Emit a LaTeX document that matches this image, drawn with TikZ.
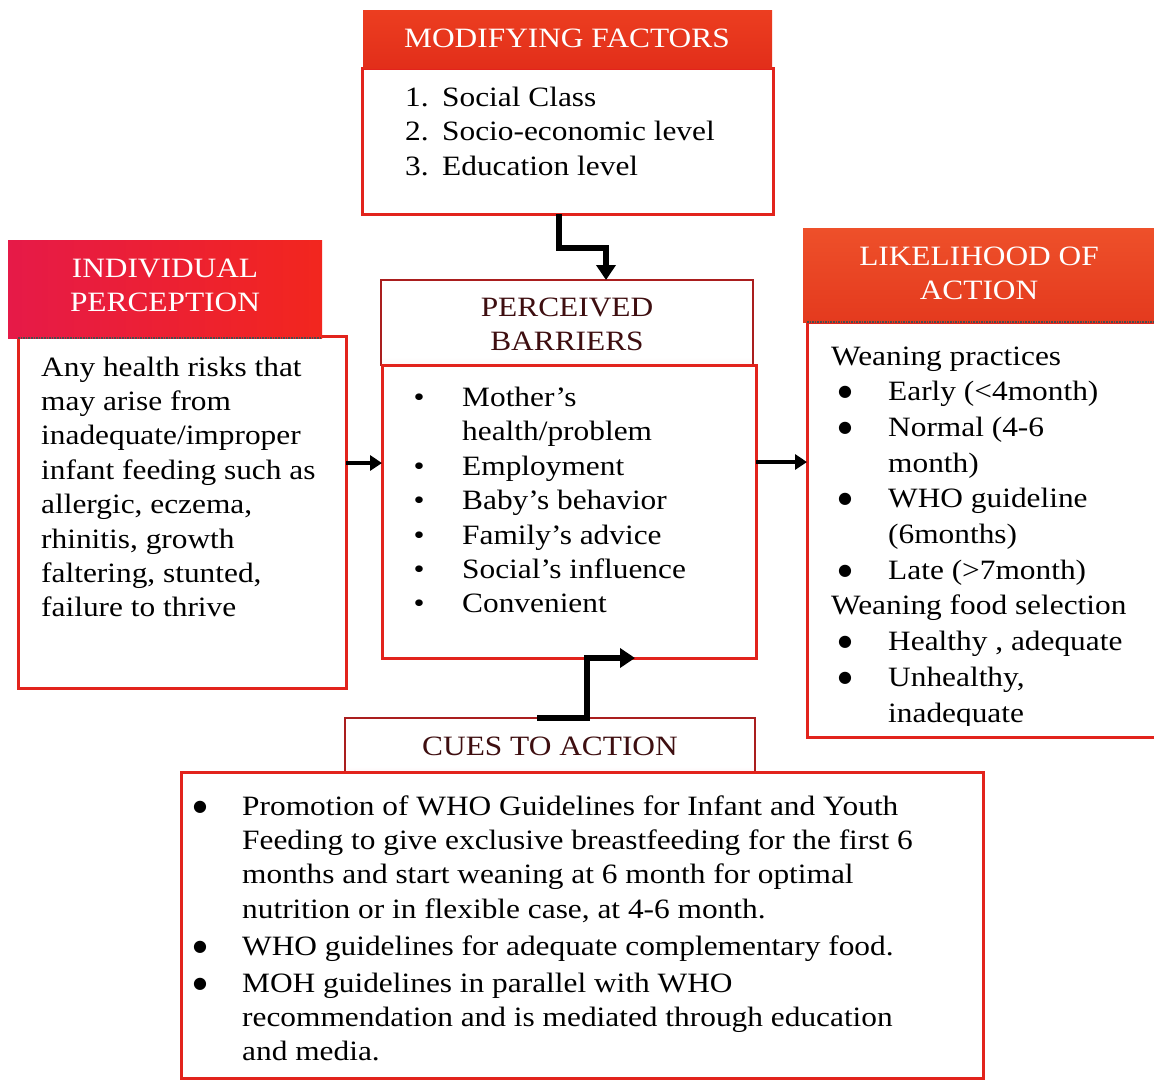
\documentclass[tikz,border=0pt]{standalone}
\usepackage{graphicx}
\usepackage{fontspec}
\setmainfont{Liberation Serif}[FakeStretch=1.12]
\newfontfamily\dotfont{DejaVu Sans}
\usetikzlibrary{arrows.meta,calc}

\definecolor{boxred}{RGB}{226,35,28}
\definecolor{darkhead}{RGB}{62,14,16}
\definecolor{headline}{RGB}{170,30,30}
\definecolor{mftop}{RGB}{236,62,32}
\definecolor{mfbot}{RGB}{226,46,26}
\definecolor{latop}{RGB}{238,80,42}
\definecolor{labot}{RGB}{228,58,30}
\definecolor{ipleft}{RGB}{230,26,72}
\definecolor{ipright}{RGB}{242,38,30}
\definecolor{haze}{RGB}{244,206,214}

% pale header shading: white that turns pink near the bottom edge
\pgfdeclareverticalshading{paleband}{100bp}{color(0bp)=(haze); color(30bp)=(white); color(100bp)=(white)}

% bullet centred at the start of a fixed-width cell
\newcommand\bulletat[2]{\makebox[#1][l]{\makebox[0pt]{#2}}}
\newcommand\smallbul{\textbullet}
\newcommand\bigbul{\raisebox{4pt}{\dotfont\fontsize{16}{16}\selectfont ●}}

\begin{document}
\begin{tikzpicture}[x=1pt,y=-1pt,
  box/.style={rectangle,anchor=north west,inner sep=0pt,outer sep=0pt},
  bodybox/.style={box,draw=boxred,line width=3pt,fill=white},
  whitehead/.style={box,draw=headline,line width=1.2pt,shading=paleband},
  txt/.style={anchor=base west,inner sep=0pt,text=black,font=\fontsize{28}{34.4}\selectfont},
  htxt/.style={anchor=base,inner sep=0pt,font=\fontsize{28}{34}\selectfont},
  conn/.style={line width=5.5pt,-{Triangle[length=15pt,width=19pt]}},
  link/.style={line width=4pt,-{Triangle[length=12pt,width=15pt]}},
  sep/.style={densely dotted,line width=1.6pt,draw=black!70}
]
\useasboundingbox (0,0) rectangle (1154,1080);
\fill[white] (0,0) rectangle (1154,1080);

% ---------- Modifying factors ----------
\node[bodybox,minimum width=411pt,minimum height=146pt] (mfbody) at (362,68) {};
\node[box,minimum width=409pt,minimum height=58pt,top color=mftop,bottom color=mfbot] (mfhead) at (363,10) {};
\node[htxt,text=white] (mftitle) at (567,47) {MODIFYING FACTORS};
\node[txt] (mflist) at (405,106.5) {\begin{tabular}[t]{@{}l@{}l@{}}
\makebox[37pt][l]{1.} & Social Class\\
\makebox[37pt][l]{2.} & Socio-economic level\\
\makebox[37pt][l]{3.} & Education level
\end{tabular}};

% ---------- Individual perception ----------
\node[bodybox,minimum width=328pt,minimum height=352pt] (ipbody) at (18,336) {};
\node[box,minimum width=314pt,minimum height=98pt,left color=ipleft,right color=ipright] (iphead) at (8,240) {};
\draw[sep] (ipbody.north west |- iphead.south) -- (iphead.south east);
\node[htxt,text=white] (iptitle) at (165,277) {\begin{tabular}[t]{@{}c@{}}INDIVIDUAL\\PERCEPTION\end{tabular}};
\node[txt] (iptext) at (41,376) {\begin{tabular}[t]{@{}l@{}}
Any health risks that\\
may arise from\\
inadequate/improper\\
infant feeding such as\\
allergic, eczema,\\
rhinitis, growth\\
faltering, stunted,\\
failure to thrive
\end{tabular}};

% ---------- Perceived barriers ----------
\node[whitehead,minimum width=372pt,minimum height=85pt] (pbhead) at (381,280) {};
\node[bodybox,minimum width=374pt,minimum height=293pt] (pbbody) at (382,365) {};
\node[htxt,text=darkhead] (pbtitle) at (567,316) {\begin{tabular}[t]{@{}c@{}}PERCEIVED\\BARRIERS\end{tabular}};
\node[txt] (pblist) at (419,406.5) {\begin{tabular}[t]{@{}l@{}l@{}}
\bulletat{43pt}{\smallbul} & Mother’s\\
 & health/problem\\
\bulletat{43pt}{\smallbul} & Employment\\
\bulletat{43pt}{\smallbul} & Baby’s behavior\\
\bulletat{43pt}{\smallbul} & Family’s advice\\
\bulletat{43pt}{\smallbul} & Social’s influence\\
\bulletat{43pt}{\smallbul} & Convenient
\end{tabular}};

% ---------- Likelihood of action ----------
\node[bodybox,minimum width=360pt,minimum height=415pt] (labody) at (807,322) {};
\node[box,minimum width=360pt,minimum height=94pt,top color=latop,bottom color=labot] (lahead) at (803,228) {};
\draw[sep] (labody.north west) -- (labody.north east);
\node[htxt,text=white] (latitle) at (979,265) {\begin{tabular}[t]{@{}c@{}}LIKELIHOOD OF\\ACTION\end{tabular}};
\begin{scope}
\clip (800,330) rectangle (1160,725);
\node[txt,font=\fontsize{28}{35.7}\selectfont] (latext) at (831,365) {\begin{tabular}[t]{@{}l@{}l@{}}
\multicolumn{2}{@{}l@{}}{Weaning practices}\\
\makebox[57pt][l]{\hspace*{14pt}\makebox[0pt]{\bigbul}} & Early (<4month)\\
\makebox[57pt][l]{\hspace*{14pt}\makebox[0pt]{\bigbul}} & Normal (4-6\\
 & month)\\
\makebox[57pt][l]{\hspace*{14pt}\makebox[0pt]{\bigbul}} & WHO guideline\\
 & (6months)\\
\makebox[57pt][l]{\hspace*{14pt}\makebox[0pt]{\bigbul}} & Late (>7month)\\
\multicolumn{2}{@{}l@{}}{Weaning food selection}\\
\makebox[57pt][l]{\hspace*{14pt}\makebox[0pt]{\bigbul}} & Healthy , adequate\\
\makebox[57pt][l]{\hspace*{14pt}\makebox[0pt]{\bigbul}} & Unhealthy,\\
 & inadequate
\end{tabular}};
\end{scope}

% ---------- Cues to action ----------
\node[whitehead,minimum width=410pt,minimum height=54pt] (cuhead) at (345,718) {};
\node[bodybox,minimum width=802pt,minimum height=306pt] (cubody) at (181,772) {};
\node[htxt,text=darkhead] (cutitle) at (550,755) {CUES TO ACTION};
\node[txt] (cutext) at (200,815) {\begin{tabular}[t]{@{}l@{}l@{}}
\bulletat{42pt}{\bigbul} & Promotion of WHO Guidelines for Infant and Youth\\
 & Feeding to give exclusive breastfeeding for the first 6\\
 & months and start weaning at 6 month for optimal\\
 & nutrition or in flexible case, at 4-6 month.\\[2.5pt]
\bulletat{42pt}{\bigbul} & WHO guidelines for adequate complementary food.\\[2.5pt]
\bulletat{42pt}{\bigbul} & MOH guidelines in parallel with WHO\\
 & recommendation and is mediated through education\\
 & and media.
\end{tabular}};

% ---------- Connectors ----------
\coordinate (yleft) at (0,463);
\coordinate (yright) at (0,462);
\draw[link] (ipbody.east |- yleft) -- (pbbody.west |- yleft);
\draw[link] (pbbody.east |- yright) -- (labody.west |- yright);
\draw[conn] ($(mfbody.south west)+(197,0)$) -- ++(0,34) -| ($(pbhead.north west)+(225,0)$);
\draw[conn] ($(cuhead.north west)+(192,0)$) -- ++(50,0) |- ($(pbbody.south west)+(253,0)$);
\end{tikzpicture}
\end{document}
